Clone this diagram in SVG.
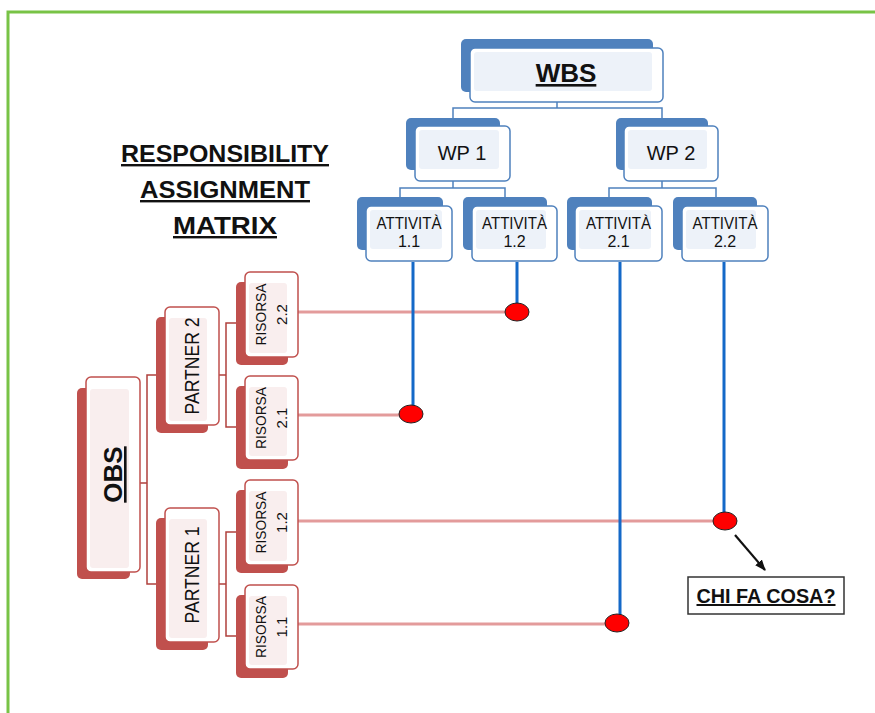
<svg xmlns="http://www.w3.org/2000/svg" width="875" height="713" viewBox="0 0 875 713">
<defs>
<style>
.bb{fill:#4f81bd}
.bf{fill:#fff;stroke:#4f81bd;stroke-width:1.5}
.bt{fill:#edf2f9}
.rb{fill:#c0504d}
.rf{fill:#fff;stroke:#c0504d;stroke-width:1.5}
.rt{fill:#f9eeee}
text{font-family:"Liberation Sans",Arial,sans-serif;fill:#111}
.bold{font-weight:bold;text-decoration:underline}
.act{font-size:16px;text-anchor:middle}
.res{font-size:15px;text-anchor:middle}
.bl{fill:none;stroke:#4f81bd;stroke-width:1.5}
.rl{fill:none;stroke:#b0403d;stroke-width:1.5}
.data{fill:none;stroke:#1469c8;stroke-width:3}
.pink{fill:none;stroke:#e39b9b;stroke-width:3}
.dot{fill:#ff0000;stroke:#222;stroke-width:1}
</style>
<marker id="ah" viewBox="0 0 10 10" refX="9" refY="5" markerWidth="11" markerHeight="11" markerUnits="userSpaceOnUse" orient="auto"><path d="M0,1 L10,5 L0,9 z" fill="#111"/></marker>
</defs>
<rect x="0" y="0" width="875" height="713" fill="#fff"/>
<rect x="8" y="12" width="900" height="800" fill="none" stroke="#78c346" stroke-width="3"/>

<g id="title">
<text class="bold" x="225" y="162" font-size="24" text-anchor="middle" textLength="208" lengthAdjust="spacingAndGlyphs">RESPONSIBILITY</text>
<text class="bold" x="225" y="198" font-size="24" text-anchor="middle" textLength="170" lengthAdjust="spacingAndGlyphs">ASSIGNMENT</text>
<text class="bold" x="225" y="234" font-size="24" text-anchor="middle" textLength="104" lengthAdjust="spacingAndGlyphs">MATRIX</text>
</g>

<g id="connectors">
<path class="bl" d="M557,102 V108 M453,118 V108 H662 V118"/>
<path class="bl" d="M453,181 V188 M400,197 V188 H505 V197"/>
<path class="bl" d="M662,181 V188 M609,197 V188 H716 V197"/>
<path class="rl" d="M140,483 H147 M156,375 H147 V584 H156"/>
<path class="rl" d="M219,375 H226 M236,323 H226 V427 H236"/>
<path class="rl" d="M219,584 H226 M236,532 H226 V636 H236"/>
<path class="pink" d="M298,312 H517 M298,415 H411 M298,521 H725 M298,624 H617"/>
<path class="data" d="M413,262 V414 M517,262 V312 M620,262 V623 M724,262 V521"/>
<ellipse class="dot" cx="517" cy="312" rx="12" ry="9"/>
<ellipse class="dot" cx="411" cy="414" rx="12" ry="9"/>
<ellipse class="dot" cx="725" cy="521" rx="12" ry="9"/>
<ellipse class="dot" cx="617" cy="623" rx="12" ry="9"/>
<line x1="735" y1="535" x2="765" y2="570" stroke="#111" stroke-width="2.2" marker-end="url(#ah)"/>
</g>

<g id="wbs">
<rect class="bb" x="461" y="39" width="192" height="53" rx="5"/>
<rect class="bf" x="470" y="48" width="193" height="54" rx="5"/>
<rect class="bt" x="474" y="52" width="178" height="39" rx="3"/>
<text class="bold" x="566" y="82" font-size="26" text-anchor="middle">WBS</text>
</g>

<g id="wp1">
<rect class="bb" x="406" y="118" width="94" height="52" rx="5"/>
<rect class="bf" x="415" y="126" width="95" height="55" rx="5"/>
<rect class="bt" x="419" y="130" width="80" height="39" rx="3"/>
<text x="462" y="160" font-size="20" text-anchor="middle">WP 1</text>
</g>

<g id="wp2">
<rect class="bb" x="616" y="118" width="92" height="52" rx="5"/>
<rect class="bf" x="624" y="126" width="94" height="55" rx="5"/>
<rect class="bt" x="628" y="130" width="79" height="39" rx="3"/>
<text x="671" y="160" font-size="20" text-anchor="middle">WP 2</text>
</g>

<g id="att11">
<rect class="bb" x="357" y="197" width="86" height="53" rx="5"/>
<rect class="bf" x="366" y="206" width="86" height="55" rx="5"/>
<rect class="bt" x="370" y="210" width="72" height="39" rx="3"/>
<text class="act" x="409" y="229" textLength="65" lengthAdjust="spacingAndGlyphs">ATTIVITÀ</text>
<text class="act" x="409" y="247">1.1</text>
</g>

<g id="att12">
<rect class="bb" x="463" y="197" width="84" height="53" rx="5"/>
<rect class="bf" x="472" y="206" width="85" height="55" rx="5"/>
<rect class="bt" x="476" y="210" width="70" height="39" rx="3"/>
<text class="act" x="514.5" y="229" textLength="65" lengthAdjust="spacingAndGlyphs">ATTIVITÀ</text>
<text class="act" x="514.5" y="247">1.2</text>
</g>

<g id="att21">
<rect class="bb" x="567" y="197" width="85" height="53" rx="5"/>
<rect class="bf" x="575" y="206" width="87" height="55" rx="5"/>
<rect class="bt" x="579" y="210" width="72" height="39" rx="3"/>
<text class="act" x="618.5" y="229" textLength="65" lengthAdjust="spacingAndGlyphs">ATTIVITÀ</text>
<text class="act" x="618.5" y="247">2.1</text>
</g>

<g id="att22">
<rect class="bb" x="673" y="197" width="84" height="53" rx="5"/>
<rect class="bf" x="682" y="206" width="86" height="55" rx="5"/>
<rect class="bt" x="686" y="210" width="70" height="39" rx="3"/>
<text class="act" x="725" y="229" textLength="65" lengthAdjust="spacingAndGlyphs">ATTIVITÀ</text>
<text class="act" x="725" y="247">2.2</text>
</g>

<g id="obs">
<rect class="rb" x="77" y="388" width="53" height="191" rx="5"/>
<rect class="rf" x="86" y="377" width="54" height="195" rx="5"/>
<rect class="rt" x="90" y="389" width="39" height="179" rx="3"/>
<text class="bold" transform="translate(113,474.5) rotate(-90)" x="0" y="9" font-size="26" text-anchor="middle">OBS</text>
</g>

<g id="partner2">
<rect class="rb" x="156" y="317" width="52" height="116" rx="5"/>
<rect class="rf" x="165" y="307" width="54" height="118" rx="5"/>
<rect class="rt" x="169" y="318" width="38" height="103" rx="3"/>
<text transform="translate(192,366) rotate(-90)" x="0" y="7" font-size="20" text-anchor="middle" textLength="97" lengthAdjust="spacingAndGlyphs">PARTNER 2</text>
</g>

<g id="partner1">
<rect class="rb" x="156" y="518" width="52" height="132" rx="5"/>
<rect class="rf" x="165" y="508" width="54" height="134" rx="5"/>
<rect class="rt" x="169" y="519" width="38" height="119" rx="3"/>
<text transform="translate(192,575) rotate(-90)" x="0" y="7" font-size="20" text-anchor="middle" textLength="97" lengthAdjust="spacingAndGlyphs">PARTNER 1</text>
</g>

<g id="risorsa22">
<rect class="rb" x="236" y="282" width="52" height="83" rx="5"/>
<rect class="rf" x="245" y="272" width="53" height="85" rx="5"/>
<rect class="rt" x="249" y="283" width="38" height="70" rx="3"/>
<text class="res" transform="translate(271.5,314.5) rotate(-90)"><tspan x="0" y="-5.5" textLength="62" lengthAdjust="spacingAndGlyphs">RISORSA</tspan><tspan x="0" y="15.5">2.2</tspan></text>
</g>

<g id="risorsa21">
<rect class="rb" x="236" y="386" width="52" height="83" rx="5"/>
<rect class="rf" x="245" y="376" width="53" height="84" rx="5"/>
<rect class="rt" x="249" y="387" width="38" height="69" rx="3"/>
<text class="res" transform="translate(271.5,418) rotate(-90)"><tspan x="0" y="-5.5" textLength="62" lengthAdjust="spacingAndGlyphs">RISORSA</tspan><tspan x="0" y="15.5">2.1</tspan></text>
</g>

<g id="risorsa12">
<rect class="rb" x="236" y="490" width="52" height="83" rx="5"/>
<rect class="rf" x="245" y="480" width="53" height="85" rx="5"/>
<rect class="rt" x="249" y="491" width="38" height="70" rx="3"/>
<text class="res" transform="translate(271.5,522.5) rotate(-90)"><tspan x="0" y="-5.5" textLength="62" lengthAdjust="spacingAndGlyphs">RISORSA</tspan><tspan x="0" y="15.5">1.2</tspan></text>
</g>

<g id="risorsa11">
<rect class="rb" x="236" y="595" width="52" height="83" rx="5"/>
<rect class="rf" x="245" y="585" width="53" height="84" rx="5"/>
<rect class="rt" x="249" y="596" width="38" height="69" rx="3"/>
<text class="res" transform="translate(271.5,627) rotate(-90)"><tspan x="0" y="-5.5" textLength="62" lengthAdjust="spacingAndGlyphs">RISORSA</tspan><tspan x="0" y="15.5">1.1</tspan></text>
</g>

<g id="chifacosa">
<rect x="688" y="577" width="156" height="37" fill="#fff" stroke="#333" stroke-width="1.5"/>
<text class="bold" x="766" y="603" font-size="20" text-anchor="middle" textLength="139" lengthAdjust="spacingAndGlyphs">CHI FA COSA?</text>
</g>
</svg>
